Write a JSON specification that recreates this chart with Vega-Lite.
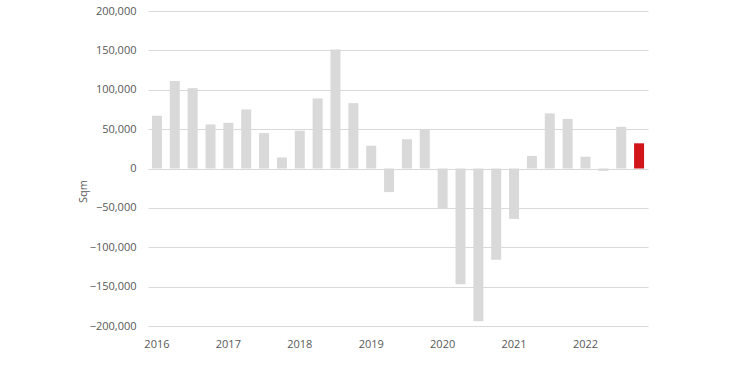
{
  "$schema": "https://vega.github.io/schema/vega-lite/v6.json",
  "width": 500,
  "height": 315,
  "autosize": {"type": "none"},
  "padding": {"left": 148, "top": 11, "right": 96, "bottom": 33},
  "background": "white",
  "config": {"view": {"stroke": null}, "font": "Open Sans"},
  "data": {"values": [
    {"q": "2016 Q1", "v": 67000, "hl": "n"},
    {"q": "2016 Q2", "v": 111000, "hl": "n"},
    {"q": "2016 Q3", "v": 102000, "hl": "n"},
    {"q": "2016 Q4", "v": 56000, "hl": "n"},
    {"q": "2017 Q1", "v": 58000, "hl": "n"},
    {"q": "2017 Q2", "v": 75000, "hl": "n"},
    {"q": "2017 Q3", "v": 45000, "hl": "n"},
    {"q": "2017 Q4", "v": 14000, "hl": "n"},
    {"q": "2018 Q1", "v": 48000, "hl": "n"},
    {"q": "2018 Q2", "v": 89000, "hl": "n"},
    {"q": "2018 Q3", "v": 151000, "hl": "n"},
    {"q": "2018 Q4", "v": 83000, "hl": "n"},
    {"q": "2019 Q1", "v": 29000, "hl": "n"},
    {"q": "2019 Q2", "v": -30000, "hl": "n"},
    {"q": "2019 Q3", "v": 37000, "hl": "n"},
    {"q": "2019 Q4", "v": 50000, "hl": "n"},
    {"q": "2020 Q1", "v": -51000, "hl": "n"},
    {"q": "2020 Q2", "v": -147000, "hl": "n"},
    {"q": "2020 Q3", "v": -194000, "hl": "n"},
    {"q": "2020 Q4", "v": -116000, "hl": "n"},
    {"q": "2021 Q1", "v": -64000, "hl": "n"},
    {"q": "2021 Q2", "v": 16000, "hl": "n"},
    {"q": "2021 Q3", "v": 70000, "hl": "n"},
    {"q": "2021 Q4", "v": 63000, "hl": "n"},
    {"q": "2022 Q1", "v": 15000, "hl": "n"},
    {"q": "2022 Q2", "v": -3000, "hl": "n"},
    {"q": "2022 Q3", "v": 53000, "hl": "n"},
    {"q": "2022 Q4", "v": 32000, "hl": "y"}
  ]},
  "mark": {"type": "bar"},
  "encoding": {
    "x": {
      "field": "q", "type": "ordinal", "sort": null,
      "scale": {"paddingInner": 0.44, "paddingOuter": 0.22},
      "axis": {
        "title": null, "domain": false, "ticks": false, "grid": false,
        "labelAngle": 0, "labelPadding": 12, "labelFontSize": 11, "labelColor": "#595959",
        "labelExpr": "indexof(datum.value, 'Q1') >= 0 ? slice(datum.value, 0, 4) : ''"
      }
    },
    "y": {
      "field": "v", "type": "quantitative",
      "scale": {"domain": [-200000, 200000], "nice": false},
      "axis": {
        "title": "Sqm", "titleFontSize": 11, "titleFontWeight": "normal", "titleColor": "#595959",
        "titleX": -60, "titleY": 180,
        "values": [-200000, -150000, -100000, -50000, 0, 50000, 100000, 150000, 200000],
        "format": ",d", "domain": false, "ticks": false,
        "labelPadding": 12, "labelFontSize": 11, "labelColor": "#595959",
        "gridColor": "#d9d9d9", "gridWidth": 1
      }
    },
    "color": {
      "field": "hl", "type": "nominal",
      "scale": {"domain": ["n", "y"], "range": ["#d9d9d9", "#d0161b"]},
      "legend": null
    }
  }
}
